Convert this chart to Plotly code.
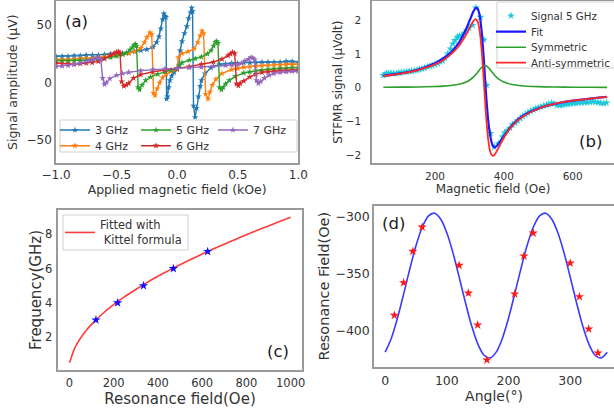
import plotly.graph_objects as go

W, H = 614, 409

# ---------------- (a) ST-FMR spectra ----------------
field_3ghz = [-1.0,-0.95,-0.9,-0.85,-0.8,-0.75,-0.7,-0.65,-0.6,-0.55,-0.5,-0.45,-0.4,-0.35,-0.3,-0.25,-0.2,-0.17,-0.15,-0.135,
              -0.12,-0.11,-0.1,-0.093,-0.087,-0.08,-0.07,-0.06,-0.045,-0.025,0.0,0.015,0.025,0.04,0.06,0.08,0.095,0.11,0.12,0.127,
              0.135,0.148,0.16,0.175,0.19,0.2,0.23,0.28,0.35,0.4,0.45,0.5,0.55,0.6,0.65,0.7,0.75,0.8,0.85,0.9,0.95,1.0]
amp_3ghz = [23,23,23,23.5,23.5,24,24,24,24.5,25,25,25.5,26,27,28,29,31,35,40,47,
            55,60,58,57,-14,-12,-4,2,6,9,12,15,28,36,43,49,56,61,65,62,
            -20,-30,-22,-12,-3,2,8,13,16,16.5,17,17,17.5,17.5,17.5,18,18,18,18,18.5,18.5,18]

field_4ghz = [-1.0,-0.95,-0.9,-0.85,-0.8,-0.75,-0.7,-0.65,-0.6,-0.55,-0.5,-0.45,-0.4,-0.35,-0.3,-0.27,-0.25,-0.225,-0.21,-0.195,
              -0.183,-0.165,-0.145,-0.12,-0.09,-0.05,-0.02,0.0,0.01,0.04,0.09,0.14,0.17,0.19,0.205,0.218,0.235,0.255,0.27,0.29,
              0.32,0.37,0.45,0.5,0.55,0.6,0.65,0.7,0.75,0.8,0.85,0.9,0.95,1.0]
amp_4ghz = [20,20,20,20.5,21,21,21.5,22,22.5,23,23.5,24.5,25.5,27,30,35,39.5,43.5,42,-9,
            -11,-5,0,4.5,7.5,10,11.5,12,22,25.5,27,29.5,35,41,45,43,-10,-14,-8,-2,
            3,8,11.5,12.5,13.5,14,14.5,15,15,15.5,15.5,16,16,16]

field_5ghz = [-1.0,-0.95,-0.9,-0.85,-0.8,-0.75,-0.7,-0.65,-0.6,-0.55,-0.5,-0.45,-0.42,-0.39,-0.37,-0.355,-0.345,-0.335,-0.322,-0.31,
              -0.29,-0.26,-0.22,-0.16,-0.1,-0.05,0.0,0.02,0.04,0.1,0.15,0.2,0.25,0.28,0.3,0.315,0.327,0.337,0.35,0.365,
              0.38,0.4,0.43,0.48,0.55,0.6,0.65,0.7,0.75,0.8,0.85,0.9,0.95,1.0]
amp_5ghz = [19,19,19,19,19.5,19.5,20,20.5,21,22,23,24.5,26,28.5,30.5,32.5,33.5,32,-4,-6,
            -2,2,5,7.5,9.5,11,12,15,17.5,19.5,21,22.5,25,28,32,35,36,34.5,-4,-6,
            -4,-1,2,5.5,8.5,9.5,10.5,11,11.5,12,12.5,12.5,13,13]

field_6ghz = [-1.0,-0.95,-0.9,-0.85,-0.8,-0.75,-0.7,-0.65,-0.6,-0.55,-0.52,-0.5,-0.485,-0.472,-0.458,-0.44,-0.42,-0.4,-0.36,-0.3,
              -0.2,-0.1,0.0,0.1,0.2,0.3,0.37,0.42,0.44,0.457,0.475,0.49,0.505,0.52,0.55,0.6,0.65,0.7,0.75,0.8,
              0.85,0.9,0.95,1.0]
amp_6ghz = [17,16.5,16.5,16,16.5,17,17.5,18.5,21,24,25.5,26.5,27,26,1,-3,-2,-0.5,4,7,
            9.5,11,12,14,16,18,20.5,23.5,25,26.5,25.5,-1,-2.5,-0.5,1.5,5,7.5,9,9.5,10,
            10.5,10.5,11,11]

field_7ghz = [-1.0,-0.95,-0.9,-0.85,-0.8,-0.75,-0.72,-0.69,-0.665,-0.645,-0.63,-0.615,-0.6,-0.585,-0.555,-0.5,-0.45,-0.4,-0.3,-0.2,
              -0.1,0.0,0.1,0.2,0.3,0.4,0.45,0.5,0.53,0.56,0.59,0.61,0.625,0.64,0.655,0.67,0.69,0.72,0.76,0.8,
              0.85,0.9,0.95,1.0]
amp_7ghz = [14,14.5,15,16,17,18.5,19.5,20.5,22,21.5,20,4,-1.5,0,3.5,6.5,8,9,10.5,11.5,
            12,12.5,13,13.5,14.5,15,15.5,16,17,19,20.5,22,21.5,20,2,-0.5,1,4,6.5,8,
            9,9.5,10,10]

series_names_a = ["3 GHz", "4 GHz", "5 GHz", "6 GHz", "7 GHz"]

# ---------------- (b) 5 GHz signal and fit ----------------
field_signal = [50,55,60,65,72,80,88,95,102,110,118,125,132,140,148,155,162,170,178,185,
                192,200,208,215,222,229,237,245,252,258,265,271,278,285,292,299,309,319,332,342,
                350,361,372,384,396,403,410,418,425,433,440,448,455,463,470,478,486,493,500,508,
                516,524,531,539,546,554,562,570,578,586,594,602,610,618,626,634,642,650,658,666,
                674,682,690,698]
signal_5ghz = [0.36,0.40,0.42,0.41,0.43,0.42,0.42,0.44,0.45,0.46,0.47,0.48,0.49,0.50,0.52,0.54,0.56,0.58,0.61,0.64,
               0.66,0.69,0.72,0.77,0.80,0.87,1.0,1.15,1.30,1.40,1.50,1.53,1.55,1.62,1.70,1.77,1.85,2.37,2.09,1.42,
               0.07,-1.36,-1.76,-1.66,-1.46,-1.34,-1.28,-1.20,-1.10,-1.05,-0.98,-0.92,-0.85,-0.80,-0.75,-0.70,-0.66,-0.62,-0.60,-0.57,
               -0.54,-0.52,-0.49,-0.46,-0.48,-0.52,-0.53,-0.52,-0.50,-0.49,-0.48,-0.47,-0.46,-0.45,-0.45,-0.44,-0.44,-0.43,-0.42,-0.43,
               -0.44,-0.46,-0.47,-0.45]
field_fit = [50,100,150,200,225,250,270,285,295,305,312,318,324,330,336,342,345,348,354,360,366,372,380,390,400,420,450,500,550,600,650,700]
fit_total = [0.35,0.42,0.53,0.72,0.87,1.08,1.34,1.62,1.85,2.10,2.27,2.36,2.34,2.12,1.62,0.80,0.33,-0.15,-0.92,-1.40,-1.68,-1.78,-1.73,-1.59,-1.45,-1.17,-0.88,-0.62,-0.48,-0.39,-0.33,-0.28]
fit_symmetric = [0.008,0.011,0.017,0.030,0.043,0.066,0.100,0.144,0.189,0.254,0.315,0.380,0.454,0.533,0.602,0.644,0.65,0.644,0.602,0.533,0.454,0.380,0.296,0.218,0.164,0.100,0.055,0.027,0.016,0.010,0.007,0.005]
fit_antisymmetric = [0.34,0.41,0.52,0.69,0.82,1.02,1.24,1.48,1.66,1.86,1.98,2.03,1.96,1.66,1.05,0.16,-0.32,-0.78,-1.50,-1.89,-2.02,-2.01,-1.88,-1.68,-1.49,-1.19,-0.90,-0.63,-0.48,-0.39,-0.33,-0.28]

# ---------------- (c) Kittel ----------------
resonance_field = [120, 218, 335, 470, 625]
frequency_ghz = [3, 4, 5, 6, 7]
kittel_field = [0,5,10,20,35,50,75,100,150,200,250,300,350,400,450,500,550,600,650,700,750,800,850,900,950,1000]
kittel_freq = [0.5,0.65,0.86,1.22,1.61,1.93,2.37,2.74,3.36,3.89,4.36,4.78,5.18,5.55,5.90,6.23,6.55,6.85,7.15,7.43,7.71,7.98,8.24,8.50,8.75,9.0]

# ---------------- (d) angular dependence ----------------
angle_meas = [15,30,45,60,120,135,150,165,210,225,240,300,315,330,345]
res_field_meas = [-386.5,-357.8,-330.2,-308.8,-342.5,-366.9,-395,-425.8,-367.7,-334.3,-314.1,-340.5,-370.1,-398.5,-419.6]
angle_fit = [0,10,20,30,40,50,60,70,80,90,100,110,120,130,140,150,160,170,180,190,200,210,220,230,240,250,260,270,280,290,300,310,320,330,340,350,360]
res_field_fit = [-418.9,-406.8,-389.1,-367.8,-345.7,-325.3,-309.2,-299.2,-296.6,-301.7,-313.8,-331.5,-352.8,-374.9,-395.3,-411.4,-421.4,-424.0,
                 -418.9,-406.8,-389.1,-367.8,-345.7,-325.3,-309.2,-299.2,-296.6,-301.7,-313.8,-331.5,-352.8,-374.9,-395.3,-411.4,-421.4,-424.0,-418.9]

# ---------------- styling ----------------
colors_a = ["#1f77b4", "#ff7f0e", "#2ca02c", "#d62728", "#9467bd"]
FONT = "DejaVu Sans"
TXT = "#333333"
SPINE = "#9a9a9a"


def px(x):
    return x / W


def py(y):
    return 1 - y / H


fig = go.Figure()

# (a)
legend_of_a = ["legend", "legend4", "legend2", "legend5", "legend3"]
fields_a = [field_3ghz, field_4ghz, field_5ghz, field_6ghz, field_7ghz]
amps_a = [amp_3ghz, amp_4ghz, amp_5ghz, amp_6ghz, amp_7ghz]
for name, xs, ys, c, lg in zip(series_names_a, fields_a, amps_a, colors_a, legend_of_a):
    fig.add_trace(go.Scatter(x=xs, y=ys, name=name, mode="lines+markers",
                             line=dict(color=c, width=1.4),
                             marker=dict(symbol="star", size=5, color=c),
                             xaxis="x", yaxis="y", legend=lg))

# (b)
fig.add_trace(go.Scatter(x=field_signal, y=signal_5ghz, name="Signal 5 GHz", mode="markers",
                         marker=dict(symbol="star", size=6, color="#1fc8d8"),
                         xaxis="x2", yaxis="y2", legend="legend6"))
fig.add_trace(go.Scatter(x=field_fit, y=fit_total, name="Fit", mode="lines",
                         line=dict(color="#1a1aff", width=2.2, shape="spline", smoothing=0.8),
                         xaxis="x2", yaxis="y2", legend="legend7"))
fig.add_trace(go.Scatter(x=field_fit, y=fit_symmetric, name="Symmetric", mode="lines",
                         line=dict(color="#2ca02c", width=1.6, shape="spline", smoothing=0.8),
                         xaxis="x2", yaxis="y2", legend="legend8"))
fig.add_trace(go.Scatter(x=field_fit, y=fit_antisymmetric, name="Anti-symmetric", mode="lines",
                         line=dict(color="#ff2a2a", width=1.8, shape="spline", smoothing=0.8),
                         xaxis="x2", yaxis="y2", legend="legend9"))

# (c)
fig.add_trace(go.Scatter(x=kittel_field, y=kittel_freq, name="Fitted with<br>\u00a0Kittel formula", mode="lines",
                         line=dict(color="#ff3b3b", width=1.6, shape="spline", smoothing=0.6),
                         xaxis="x3", yaxis="y3", legend="legend10"))
fig.add_trace(go.Scatter(x=resonance_field, y=frequency_ghz, mode="markers", showlegend=False,
                         marker=dict(symbol="star", size=7, color="#1010ff"),
                         xaxis="x3", yaxis="y3"))

# (d)
fig.add_trace(go.Scatter(x=angle_fit, y=res_field_fit, mode="lines", showlegend=False,
                         line=dict(color="#3a3aff", width=1.6, shape="spline", smoothing=0.8),
                         xaxis="x4", yaxis="y4"))
fig.add_trace(go.Scatter(x=angle_meas, y=res_field_meas, mode="markers", showlegend=False,
                         marker=dict(symbol="star", size=7, color="#ff1a1a"),
                         xaxis="x4", yaxis="y4"))


def ax(**kw):
    d = dict(showline=True, linecolor=SPINE, linewidth=1.5, showgrid=False, zeroline=False,
             ticks="", ticklen=0, color=TXT, automargin=False)
    d.update(kw)
    return d


def leg(xp, yp, size):
    return dict(x=px(xp), y=py(yp), xanchor="left", yanchor="middle", bgcolor="rgba(0,0,0,0)",
                borderwidth=0, font=dict(size=size, color=TXT, family=FONT), itemwidth=30,
                tracegroupgap=0)


def panel_label(text, xp, yp):
    return dict(text=text, x=px(xp), y=py(yp), xref="paper", yref="paper", showarrow=False,
                xanchor="center", yanchor="middle", font=dict(size=16.5, color="#1a1a1a"))


layout = dict(
    width=W, height=H, margin=dict(l=0, r=0, t=0, b=0, autoexpand=False),
    paper_bgcolor="white", plot_bgcolor="white",
    font=dict(family=FONT, color=TXT), showlegend=True,
    # (a)
    xaxis=ax(domain=[px(56), px(298.3)], range=[-1, 1], anchor="y", mirror=True,
             tickvals=[-1, -0.5, 0, 0.5, 1], tickformat=".1f", tickfont=dict(size=12), ticklabelstandoff=0,
             title=dict(text="Applied magnetic field (kOe)", font=dict(size=12.5), standoff=1)),
    yaxis=ax(domain=[py(163.3), py(1)], range=[-70, 71], anchor="x", mirror=True,
             tickvals=[-50, 0, 50], tickfont=dict(size=12), ticklabelstandoff=0,
             title=dict(text="Signal amplitude (μV)", font=dict(size=12.5), standoff=6)),
    # (b)
    xaxis2=ax(domain=[px(372), 1.0], range=[17, 720], anchor="y2", mirror=True,
              tickvals=[200, 400, 600], tickfont=dict(size=10.5), ticklabelstandoff=2,
              title=dict(text="Magnetic field (Oe)", font=dict(size=12), standoff=1)),
    yaxis2=ax(domain=[py(163.3), py(1)], range=[-2.25, 2.57], anchor="x2", mirror=False,
              tickvals=[-2, -1, 0, 1, 2], tickfont=dict(size=10.5), ticklabelstandoff=7,
              title=dict(text="STFMR signal (μVolt)", font=dict(size=12), standoff=0)),
    # (c)
    xaxis3=ax(domain=[px(58.3), px(301.7)], range=[-50, 1050], anchor="y3", mirror=True,
              tickvals=[0, 200, 400, 600, 800, 1000], tickfont=dict(size=11.5), ticklabelstandoff=1,
              title=dict(text="Resonance field(Oe)", font=dict(size=15), standoff=0)),
    yaxis3=ax(domain=[py(370), py(210)], range=[0.07, 9.43], anchor="x3", mirror=True,
              tickvals=[2, 4, 6, 8], tickfont=dict(size=11.5), ticklabelstandoff=2,
              title=dict(text="Frequency(GHz)", font=dict(size=15), standoff=0)),
    # (d)
    xaxis4=ax(domain=[px(374), 1.0], range=[-18, 371], anchor="y4", mirror=True,
              tickvals=[0, 100, 200, 300], tickfont=dict(size=12.5), ticklabelstandoff=2,
              title=dict(text="Angle(°)", font=dict(size=14), standoff=0)),
    yaxis4=ax(domain=[py(366.7), py(205.7)], range=[-431.7, -290], anchor="x4", mirror=False,
              tickvals=[-400, -350, -300], tickfont=dict(size=12.5), ticklabelstandoff=0,
              title=dict(text="Resonance Field(Oe)", font=dict(size=14.5), standoff=2)),
    # legends
    legend=leg(55, 130, 11), legend2=leg(136, 130, 11), legend3=leg(213, 130, 11),
    legend4=leg(55, 145.7, 11), legend5=leg(136, 145.7, 11),
    legend6=leg(491, 15.7, 10.3), legend7=leg(491, 31.7, 10.3), legend8=leg(491, 47.3, 10.3),
    legend9=leg(491, 62.7, 10.3),
    legend10=leg(60, 232.5, 11.5),
    shapes=[
        dict(type="rect", xref="paper", yref="paper", x0=px(60), x1=px(297), y0=py(152), y1=py(120),
             line=dict(color="#d0d0d0", width=1), fillcolor="rgba(255,255,255,0.8)", layer="above"),
        dict(type="rect", xref="paper", yref="paper", x0=px(497), x1=px(640), y0=py(68), y1=py(2),
             line=dict(color="#d0d0d0", width=1), fillcolor="rgba(255,255,255,0.8)", layer="above"),
        dict(type="rect", xref="paper", yref="paper", x0=px(63), x1=px(188), y0=py(250), y1=py(215),
             line=dict(color="#d0d0d0", width=1), fillcolor="rgba(255,255,255,0.8)", layer="above"),
    ],
    annotations=[
        panel_label("(a)", 76.5, 21.7),
        panel_label("(b)", 590, 141),
        panel_label("(c)", 277.5, 351),
        panel_label("(d)", 393.5, 223),
    ],
)
fig.update_layout(**layout)
# the page's default 8px body margin would shift the fixed-size figure; remove it
fig.write_html("out.html", config={"displayModeBar": False},
               post_script="document.body.style.margin='0px';")
